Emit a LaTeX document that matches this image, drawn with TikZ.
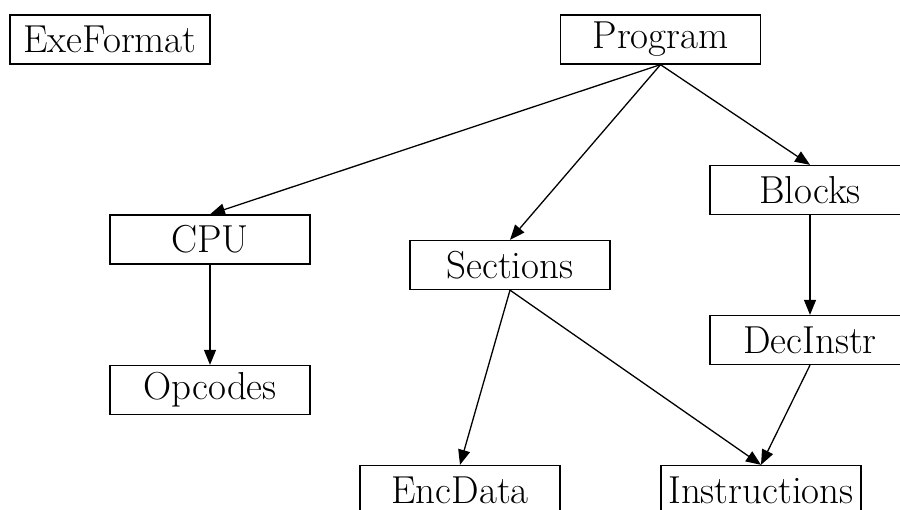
\documentclass[tikz,border=0pt]{standalone}
\usetikzlibrary{arrows.meta}
\begin{document}
\begin{tikzpicture}[x=1pt,y=-1pt,
  box/.style={draw, line width=1.3pt, minimum width=200pt, minimum height=49pt,
    inner sep=0pt, font=\fontsize{39}{46}\selectfont},
  edge/.style={line width=1.3pt, -{Triangle[length=15pt,width=12pt]}}]
  \useasboundingbox (0,0) rectangle (900,510);
  \node[box] (exe) at (110,39.5) {ExeFormat};
  \node[box] (prog) at (660.5,39.5) {Program};
  \node[box] (blocks) at (810,190) {Blocks};
  \node[box] (cpu) at (210,239.5) {CPU};
  \node[box] (sect) at (510,265) {Sections};
  \node[box] (dec) at (810,340) {DecInstr};
  \node[box] (opc) at (210,390) {Opcodes};
  \node[box] (enc) at (460,490) {EncData};
  \node[box] (ins) at (761,490) {Instructions};
  \draw[edge] (prog.south) -- (cpu.north);
  \draw[edge] (prog.south) -- (sect.north);
  \draw[edge] (prog.south) -- (blocks.north);
  \draw[edge] (cpu.south) -- (opc.north);
  \draw[edge] (blocks.south) -- (dec.north);
  \draw[edge] (sect.south) -- (enc.north);
  \draw[edge] (sect.south) -- (ins.north);
  \draw[edge] (dec.south) -- (ins.north);
\end{tikzpicture}
\end{document}
